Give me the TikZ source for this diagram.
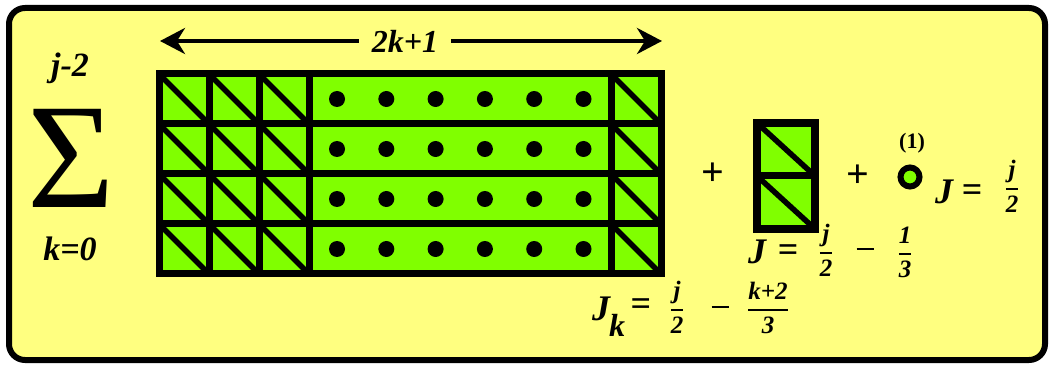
\documentclass[tikz,border=0pt]{standalone}
\usepackage{amsmath}
\usepackage{fontspec}
\setmainfont{Liberation Serif}
\usetikzlibrary{positioning,arrows.meta}
\definecolor{pad}{RGB}{255,255,128}
\definecolor{lime}{RGB}{128,255,0}
\newcommand\fr[2]{$\genfrac{}{}{1.8pt}{0}{\text{#1}}{\text{#2}}$}

\begin{document}
\begin{tikzpicture}[x=1pt,y=-1pt,>={Stealth[length=25pt,width=26pt,inset=8pt]},
  cellline/.style={line width=7pt,line join=miter},
  diag/.style={line width=5.5pt},
  dot/.style={circle,fill=black,minimum size=16pt,inner sep=0pt},
  big/.style={inner sep=0pt,font=\fontsize{36}{36}\selectfont\bfseries\itshape},
  lbl/.style={inner sep=0pt,font=\fontsize{34}{34}\selectfont\bfseries\itshape},
  frc/.style={inner sep=0pt,font=\fontsize{25}{25}\selectfont\bfseries\itshape},
  pl/.style={inner sep=0pt,font=\fontsize{40}{40}\selectfont\bfseries}]
\useasboundingbox (0,0) rectangle (1050,366);
\draw[line width=6pt,rounded corners=16pt,fill=pad] (9,8) rectangle (1045,360);
% sum
\node[inner sep=0pt,font=\fontsize{150}{150}\selectfont] (sig) at (71,158) {Σ};
\node[lbl] (top) at (70,68) {j-2};
\node[lbl] (bot) at (70,249) {k=0};
% span arrow
\coordinate (al) at (160,41);
\coordinate (ar) at (662,41);
\node[lbl,font=\fontsize{32}{32}\selectfont\bfseries\itshape,inner xsep=13pt] (span) at (405,41) {2k+1};
\draw[->,line width=4pt] (span) -- (al);
\draw[->,line width=4pt] (span) -- (ar);
% big block
\fill[lime] (159,74) rectangle (661,274);
\foreach \x in {159,209,259,611}
  \foreach \y in {74,124,174,224}
    \draw[diag] (\x,\y) -- ++(50,50);
\draw[cellline] (159,74) rectangle (661,274);
\foreach \y in {124,174,224} \draw[cellline] (159,\y) -- (661,\y);
\foreach \x in {209,259,309,611} \draw[cellline] (\x,74) -- (\x,274);
\foreach \r in {0,...,3}
  \foreach \c in {0,...,5}
    \node[dot] (d\r\c) at (337+49.3*\c,99+50*\r) {};
% small block
\fill[lime] (757,123) rectangle (815,229);
\draw[diag] (757,123) -- (815,176);
\draw[diag] (757,176) -- (815,229);
\draw[cellline,line width=8pt] (757,123) rectangle (815,229);
\draw[cellline] (757,176) -- (815,176);
% ring
\node[circle,draw,line width=6pt,fill=lime,minimum size=19pt,inner sep=0pt] (ring) at (910,177) {};
\node[inner sep=0pt,font=\fontsize{22}{22}\selectfont\bfseries] (one) at (912,143) {(1)};
% plus signs
\node[pl] (p1) at (713,174) {+};
\node[pl] (p2) at (858,176) {+};
% J = j/2
\node[big] (ja) at (944,192) {J};
\node[big,font=\fontsize{36}{36}\selectfont\bfseries] (ea) at (972,193) {=};
\node[frc] (fa) at (1012,186) {\fr{j}{2}};
% J = j/2 - 1/3
\node[big] (jb) at (757,252) {J};
\node[big,font=\fontsize{36}{36}\selectfont\bfseries] (eb) at (788,253) {=};
\node[frc] (fb) at (826,250) {\fr{j}{2}};
\node[inner sep=0pt] (mb) at (865,249) {\rule{17pt}{2pt}};
\node[frc] (gb) at (905,252) {\fr{1}{3}};
% J_k = j/2 - (k+2)/3
\node[big] (jc) at (601,309) {J};
\node[lbl,font=\fontsize{32}{32}\selectfont\bfseries\itshape] (kc) at (617,325) {k};
\node[big,font=\fontsize{36}{36}\selectfont\bfseries] (ec) at (641,307) {=};
\node[frc] (fc) at (677,307) {\fr{j}{2}};
\node[inner sep=0pt] (mc) at (720,307) {\rule{17pt}{2pt}};
\node[frc] (gc) at (768,308) {\fr{k+2}{3}};
\end{tikzpicture}
\end{document}
